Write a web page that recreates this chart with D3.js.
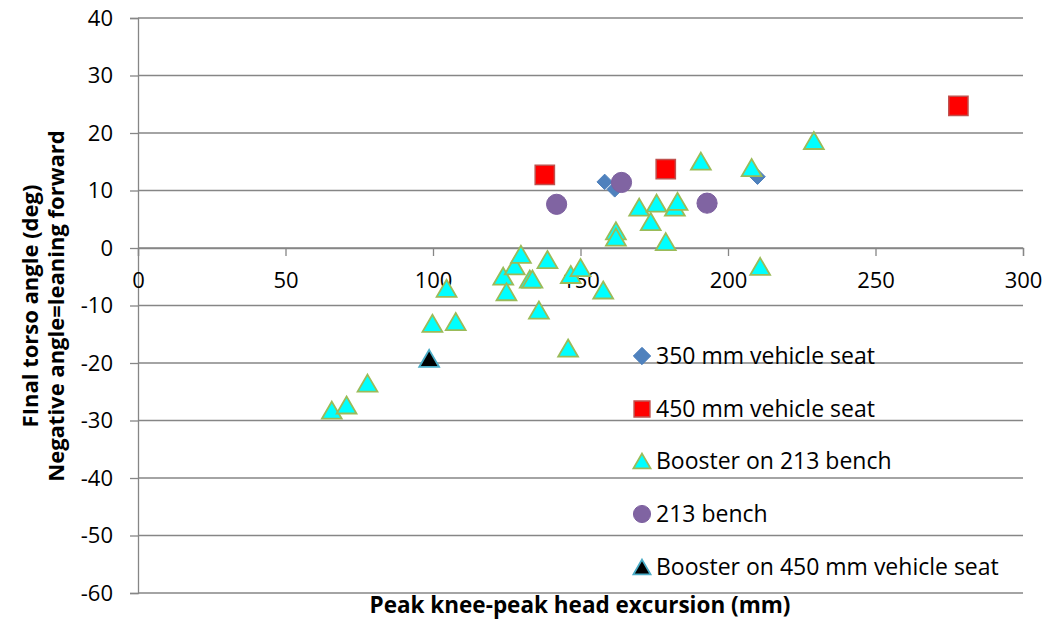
<!DOCTYPE html>
<html><head><meta charset="utf-8">
<script src="https://cdn.jsdelivr.net/npm/d3@7/dist/d3.min.js"></script>
<style>body{margin:0;background:#fff;} svg{display:block;font-family:"Open Sans",sans-serif;}</style>
</head><body>
<svg id="c" width="1050" height="626"></svg>
<script>
// ---- data ----
const xTicks = [0, 50, 100, 150, 200, 250, 300];
const yTicks = [40, 30, 20, 10, 0, -10, -20, -30, -40, -50, -60];

const seat350X = [158.2, 161.6, 210.0];
const seat350Y = [11.5, 10.2, 12.4];

const seat450X = [137.9, 178.9, 278.1];
const seat450Y = [12.7, 13.7, 24.7];

const booster213X = [65.7, 70.7, 77.8, 99.8, 104.6, 107.7, 123.8, 124.9, 127.7, 129.8,
  132.8, 133.7, 135.9, 138.8, 145.8, 146.7, 150.0, 157.7, 162.0, 162.0,
  169.9, 173.8, 175.8, 178.9, 182.0, 182.9, 190.8, 208.0, 210.9, 229.1];
const booster213Y = [-28.2, -27.3, -23.5, -13.1, -7.0, -12.8, -4.9, -7.6, -3.1, -1.1,
  -5.4, -5.4, -10.8, -2.0, -17.4, -4.6, -3.4, -7.3, 3.0, 1.9,
  7.1, 4.6, 7.8, 1.1, 7.1, 8.1, 15.1, 14.0, -3.2, 18.7];

const bench213X = [141.9, 163.9, 192.9];
const bench213Y = [7.6, 11.4, 7.8];

const booster450X = [98.7];
const booster450Y = [-19.2];

const seriesNames = ["350 mm vehicle seat", "450 mm vehicle seat", "Booster on 213 bench", "213 bench", "Booster on 450 mm vehicle seat"];

// ---- chart ----
const svg = d3.select("#c");
const x = d3.scaleLinear().domain([0, 300]).range([138, 1023]);
const y = d3.scaleLinear().domain([-60, 40]).range([593, 18]);
const grid = "#868686";

// gridlines
svg.append("g").selectAll("line").data(yTicks).join("line")
  .attr("x1", x(0)).attr("x2", x(300))
  .attr("y1", d => y(d)).attr("y2", d => y(d))
  .attr("stroke", grid).attr("stroke-width", 1.3);

// y axis
const yAxis = svg.append("g").attr("transform", `translate(${x(0)},0)`)
  .call(d3.axisLeft(y).tickValues(yTicks).tickSize(8).tickPadding(17).tickFormat(d => String(d)));
yAxis.select(".domain").attr("stroke", grid).attr("stroke-width", 1.3);
yAxis.selectAll(".tick line").attr("stroke", grid).attr("stroke-width", 1.3);
yAxis.selectAll("text").attr("font-size", 22).attr("fill", "#000").attr("font-family", "Open Sans");

// x axis at y=0
const xAxis = svg.append("g").attr("transform", `translate(0,${y(0)})`)
  .call(d3.axisBottom(x).tickValues(xTicks).tickSize(8).tickPadding(19).tickFormat(d => String(d)));
xAxis.select(".domain").attr("stroke", grid).attr("stroke-width", 1.3);
xAxis.selectAll(".tick line").attr("stroke", grid).attr("stroke-width", 1.3);
xAxis.selectAll("text").attr("font-size", 22).attr("fill", "#000").attr("font-family", "Open Sans")
  .attr("dy", "0.6em");

// custom symbols
const triSym = { draw(ctx, size) { const w = Math.sqrt(size) * 1.5, h = w * 0.86;
  ctx.moveTo(0, -h / 2); ctx.lineTo(w / 2, h / 2); ctx.lineTo(-w / 2, h / 2); ctx.closePath(); } };
const diaSym = { draw(ctx, size) { const r = Math.sqrt(size) / 2 * 1.414;
  ctx.moveTo(0, -r); ctx.lineTo(r, 0); ctx.lineTo(0, r); ctx.lineTo(-r, 0); ctx.closePath(); } };

const series = [
  { xs: seat350X, ys: seat350Y, sym: diaSym, size: 120, fill: "#4F81BD", stroke: "#4A7EBB", sw: 1 },
  { xs: seat450X, ys: seat450Y, sym: d3.symbolSquare, size: 370, fill: "#FF0000", stroke: "#C0504D", sw: 1.5 },
  { xs: booster213X, ys: booster213Y, sym: triSym, size: 175, fill: "#00FFFF", stroke: "#9BBB59", sw: 1.8 },
  { xs: bench213X, ys: bench213Y, sym: d3.symbolCircle, size: 320, fill: "#8064A2", stroke: "#7D60A0", sw: 1 },
  { xs: booster450X, ys: booster450Y, sym: triSym, size: 175, fill: "#000000", stroke: "#4BACC6", sw: 1.8 }
];
series.forEach(s => {
  svg.append("g").selectAll("path").data(s.xs.map((v, k) => [v, s.ys[k]])).join("path")
    .attr("d", d3.symbol(s.sym, s.size))
    .attr("transform", d => `translate(${x(d[0])},${y(d[1])})`)
    .attr("fill", s.fill).attr("stroke", s.stroke).attr("stroke-width", s.sw);
});

// legend
const legY = [356, 409, 461, 514, 567];
const legSizes = [150, 250, 130, 230, 130];
const leg = svg.append("g");
series.forEach((s, i) => {
  leg.append("path").attr("d", d3.symbol(s.sym, legSizes[i]))
    .attr("transform", `translate(642,${legY[i]})`)
    .attr("fill", s.fill).attr("stroke", s.stroke).attr("stroke-width", s.sw);
  leg.append("text").attr("x", 656).attr("y", legY[i]).attr("dy", "0.36em")
    .attr("font-size", 23).text(seriesNames[i]);
});

// axis titles
svg.append("text").attr("x", 580).attr("y", 613).attr("text-anchor", "middle")
  .attr("font-size", 22.5).attr("font-weight", "bold").text("Peak knee-peak head excursion (mm)");
const yt = svg.append("text").attr("transform", "translate(0,306) rotate(-90)")
  .attr("text-anchor", "middle").attr("font-size", 22).attr("font-weight", "bold");
yt.append("tspan").attr("x", 0).attr("y", 38).text("FInal torso angle (deg)");
yt.append("tspan").attr("x", 0).attr("y", 64).text("Negative angle=leaning forward");
</script>
</body></html>
